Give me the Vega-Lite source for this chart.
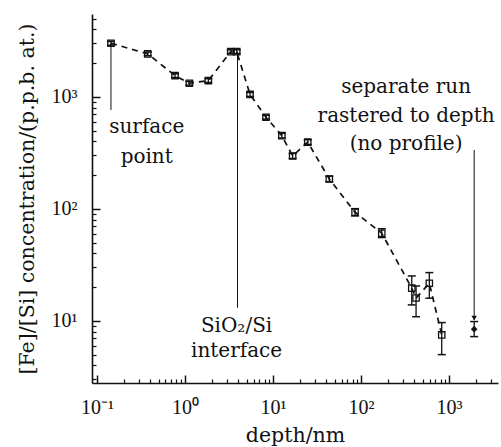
{
  "$schema": "https://vega.github.io/schema/vega-lite/v6.json",
  "width": 406,
  "height": 369,
  "autosize": "none",
  "padding": {"left": 92, "top": 14, "right": 3, "bottom": 64},
  "background": "white",
  "config": {
    "view": {"stroke": null},
    "axis": {
      "labelFont": "Liberation Serif",
      "labelFontSize": 20,
      "labelColor": "#111",
      "titleFont": "DejaVu Serif",
      "titleFontSize": 20.5,
      "titleFontWeight": "normal",
      "titleColor": "#111",
      "grid": false,
      "domainColor": "#111",
      "tickColor": "#111"
    }
  },
  "datasets": {
    "profile": [
      {"x": 0.144, "y": 3015, "lo": 2900, "hi": 3130},
      {"x": 0.377, "y": 2421, "lo": 2330, "hi": 2515},
      {"x": 0.77, "y": 1550, "lo": 1490, "hi": 1610},
      {"x": 1.12, "y": 1325, "lo": 1275, "hi": 1375},
      {"x": 1.84, "y": 1399, "lo": 1345, "hi": 1455},
      {"x": 3.31, "y": 2535, "lo": 2440, "hi": 2635},
      {"x": 3.87, "y": 2535, "lo": 2440, "hi": 2635},
      {"x": 5.48, "y": 1053, "lo": 1010, "hi": 1095},
      {"x": 8.32, "y": 659, "lo": 633, "hi": 686},
      {"x": 12.6, "y": 451, "lo": 430, "hi": 473},
      {"x": 16.7, "y": 297, "lo": 282, "hi": 313},
      {"x": 24.8, "y": 395, "lo": 376, "hi": 415},
      {"x": 43.6, "y": 185, "lo": 175, "hi": 196},
      {"x": 85.5, "y": 93.3, "lo": 86.5, "hi": 100.5},
      {"x": 172, "y": 60.7, "lo": 55.5, "hi": 66.5},
      {"x": 377, "y": 19.6, "lo": 13.9, "hi": 25.2},
      {"x": 422, "y": 16.0, "lo": 10.9, "hi": 20.5},
      {"x": 597, "y": 21.7, "lo": 15.95, "hi": 27.0},
      {"x": 826, "y": 7.5, "lo": 5.0, "hi": 9.66}
    ],
    "separate": [
      {"x": 1930, "y": 8.43, "lo": 7.24, "hi": 9.87}
    ],
    "pointers": [
      {"x": 0.144, "y": 3015, "y2": 765},
      {"x": 3.95, "y": 2535, "y2": 13.1},
      {"x": 1930, "y": 336, "y2": 10.2}
    ],
    "arrow": [
      {"x": 1930, "y": 10.6}
    ],
    "notes": [
      {"t": "surface", "x": 0.367, "y": 474},
      {"t": "point", "x": 0.367, "y": 258},
      {"t": "SiO₂/Si", "x": 3.85, "y": 8.03},
      {"t": "interface", "x": 3.85, "y": 4.8},
      {"t": "separate run", "x": 325, "y": 1075},
      {"t": "rastered to depth", "x": 325, "y": 598},
      {"t": "(no profile)", "x": 325, "y": 336}
    ]
  },
  "layer": [
    {
      "data": {"name": "profile"},
      "mark": {"type": "line", "color": "#111", "strokeWidth": 1.7, "strokeDash": [6, 5]},
      "encoding": {
        "x": {
          "field": "x", "type": "quantitative",
          "scale": {"type": "log", "domain": [0.0877, 3600], "nice": false},
          "axis": {
            "orient": "bottom",
            "values": [0.1, 1, 10, 100, 1000],
            "labelExpr": "'10' + (datum.value < 0.5 ? '⁻¹' : datum.value < 5 ? '⁰' : datum.value < 50 ? '¹' : datum.value < 500 ? '²' : '³')",
            "tickSize": -8, "tickWidth": 1.5, "domainWidth": 1.6,
            "labelPadding": 22, "labelFlush": false, "labelOverlap": false,
            "title": "depth/nm", "titlePadding": 8
          }
        },
        "y": {
          "field": "y", "type": "quantitative",
          "scale": {"type": "log", "domain": [2.79, 5500], "nice": false},
          "axis": {
            "orient": "left",
            "values": [10, 100, 1000],
            "labelExpr": "'10' + (datum.value < 50 ? '¹' : datum.value < 500 ? '²' : '³')",
            "tickSize": -8, "tickWidth": 1.5, "domainWidth": 1.6,
            "labelPadding": 23, "labelFlush": false, "labelOverlap": false,
            "title": "[Fe]/[Si] concentration/(p.p.b. at.)", "titlePadding": 14
          }
        }
      }
    },
    {
      "data": {"name": "profile"},
      "mark": {"type": "point", "shape": "square", "filled": false, "color": "#111", "size": 40, "strokeWidth": 1.3, "opacity": 1},
      "encoding": {
        "x": {
          "field": "x", "type": "quantitative",
          "axis": {
            "orient": "bottom",
            "values": [0.2, 0.3, 0.4, 0.5, 0.6, 0.7, 0.8, 0.9, 2, 3, 4, 5, 6, 7, 8, 9, 20, 30, 40, 50, 60, 70, 80, 90, 200, 300, 400, 500, 600, 700, 800, 900, 2000, 3000],
            "labels": false, "domain": false, "tickSize": -4, "tickWidth": 1.2, "title": null
          }
        },
        "y": {
          "field": "y", "type": "quantitative",
          "axis": {
            "orient": "left",
            "values": [3, 4, 5, 6, 7, 8, 9, 20, 30, 40, 50, 60, 70, 80, 90, 200, 300, 400, 500, 600, 700, 800, 900, 2000, 3000, 4000, 5000],
            "labels": false, "domain": false, "tickSize": -4, "tickWidth": 1.2, "title": null
          }
        }
      }
    },
    {
      "data": {"name": "profile"},
      "mark": {"type": "rule", "color": "#111", "strokeWidth": 1.3},
      "encoding": {
        "x": {"field": "x", "type": "quantitative", "axis": null},
        "y": {"field": "lo", "type": "quantitative", "axis": null},
        "y2": {"field": "hi"}
      }
    },
    {
      "data": {"name": "profile"},
      "mark": {"type": "tick", "orient": "horizontal", "color": "#111", "size": 8, "thickness": 1.5, "opacity": 1},
      "encoding": {
        "x": {"field": "x", "type": "quantitative", "axis": null},
        "y": {"field": "lo", "type": "quantitative", "axis": null}
      }
    },
    {
      "data": {"name": "profile"},
      "mark": {"type": "tick", "orient": "horizontal", "color": "#111", "size": 8, "thickness": 1.5, "opacity": 1},
      "encoding": {
        "x": {"field": "x", "type": "quantitative", "axis": null},
        "y": {"field": "hi", "type": "quantitative", "axis": null}
      }
    },
    {
      "data": {"name": "separate"},
      "mark": {"type": "rule", "color": "#111", "strokeWidth": 1.3},
      "encoding": {
        "x": {"field": "x", "type": "quantitative", "axis": null},
        "y": {"field": "lo", "type": "quantitative", "axis": null},
        "y2": {"field": "hi"}
      }
    },
    {
      "data": {"name": "separate"},
      "mark": {"type": "tick", "orient": "horizontal", "color": "#111", "size": 8, "thickness": 1.5, "opacity": 1},
      "encoding": {
        "x": {"field": "x", "type": "quantitative", "axis": null},
        "y": {"field": "lo", "type": "quantitative", "axis": null}
      }
    },
    {
      "data": {"name": "separate"},
      "mark": {"type": "tick", "orient": "horizontal", "color": "#111", "size": 8, "thickness": 1.5, "opacity": 1},
      "encoding": {
        "x": {"field": "x", "type": "quantitative", "axis": null},
        "y": {"field": "hi", "type": "quantitative", "axis": null}
      }
    },
    {
      "data": {"name": "separate"},
      "mark": {"type": "point", "shape": "diamond", "filled": true, "color": "#111", "size": 45, "opacity": 1},
      "encoding": {
        "x": {"field": "x", "type": "quantitative", "axis": null},
        "y": {"field": "y", "type": "quantitative", "axis": null}
      }
    },
    {
      "data": {"name": "pointers"},
      "mark": {"type": "rule", "color": "#111", "strokeWidth": 1},
      "encoding": {
        "x": {"field": "x", "type": "quantitative", "axis": null},
        "y": {"field": "y", "type": "quantitative", "axis": null},
        "y2": {"field": "y2"}
      }
    },
    {
      "data": {"name": "arrow"},
      "mark": {"type": "point", "shape": "triangle-down", "filled": true, "color": "#111", "size": 30, "opacity": 1},
      "encoding": {
        "x": {"field": "x", "type": "quantitative", "axis": null},
        "y": {"field": "y", "type": "quantitative", "axis": null}
      }
    },
    {
      "data": {"name": "notes"},
      "mark": {"type": "text", "font": "DejaVu Serif", "fontSize": 20, "color": "#111", "align": "center", "baseline": "alphabetic"},
      "encoding": {
        "x": {"field": "x", "type": "quantitative", "axis": null},
        "y": {"field": "y", "type": "quantitative", "axis": null},
        "text": {"field": "t"}
      }
    }
  ],
  "resolve": {"axis": {"x": "independent", "y": "independent"}}
}
